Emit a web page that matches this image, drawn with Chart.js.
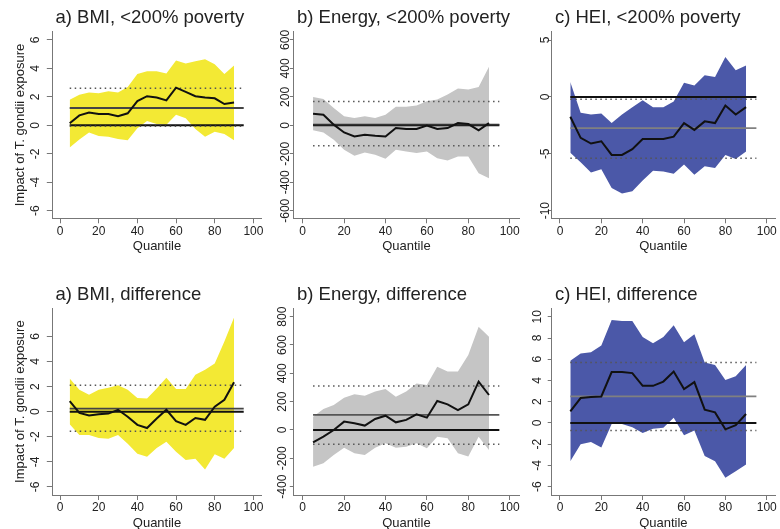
<!DOCTYPE html>
<html>
<head>
<meta charset="utf-8">
<script src="https://cdn.jsdelivr.net/npm/chart.js@4.4.1/dist/chart.umd.min.js"></script>
<style>
  html, body { margin: 0; padding: 0; background: #fff; overflow: hidden; width: 780px; height: 529px; }
  canvas { position: absolute; }
</style>
</head>
<body>
<canvas id="p1"></canvas>
<canvas id="p2"></canvas>
<canvas id="p3"></canvas>
<canvas id="p4"></canvas>
<canvas id="p5"></canvas>
<canvas id="p6"></canvas>
<script>
// Quantile grid shared by every panel
const quantiles = [5, 10, 15, 20, 25, 30, 35, 40, 45, 50, 55, 60, 65, 70, 75, 80, 85, 90];
const xTickValues = [0, 20, 40, 60, 80, 100];

// a) BMI, <200% poverty
const bmiPovEst = [0.15, 0.7, 0.9, 0.8, 0.8, 0.65, 0.85, 1.7, 2.05, 1.95, 1.75, 2.65, 2.35, 2.05, 1.95, 1.9, 1.5, 1.6];
const bmiPovHi  = [1.8, 2.15, 2.3, 2.25, 2.4, 2.3, 2.7, 3.6, 3.8, 3.8, 3.65, 4.55, 4.35, 4.5, 4.65, 4.3, 3.6, 4.2];
const bmiPovLo  = [-1.55, -1.0, -0.5, -0.75, -0.8, -0.95, -1.05, -0.2, 0.3, 0.1, 0.05, 0.75, 0.5, -0.25, -0.8, -0.45, -0.6, -1.05];
const bmiPovOls = [1.22, -0.07, 2.6];           // estimate, lower, upper
const bmiPovTicks = [-6, -4, -2, 0, 2, 4, 6];

// b) Energy, <200% poverty
const energyPovEst = [82, 75, 5, -50, -78, -66, -73, -78, -19, -26, -26, -2, -26, -19, 16, 9, -35, 16];
const energyPovHi  = [200, 186, 122, 64, 52, 64, 52, 75, 130, 130, 139, 170, 181, 216, 259, 252, 270, 412];
const energyPovLo  = [-35, -50, -101, -172, -214, -191, -207, -235, -172, -184, -195, -184, -231, -247, -219, -219, -336, -372];
const energyPovOls = [5, -144, 167];
const energyPovTicks = [-600, -400, -200, 0, 200, 400, 600];

// c) HEI, <200% poverty
const heiPovEst = [-1.75, -3.6, -4.1, -3.9, -5.1, -5.1, -4.6, -3.7, -3.7, -3.7, -3.5, -2.3, -2.9, -2.15, -2.3, -0.75, -1.55, -0.9];
const heiPovHi  = [1.3, -1.4, -1.55, -1.45, -2.3, -1.55, -0.9, -0.3, -0.9, -0.9, -0.4, 1.25, 1.0, 1.9, 1.75, 3.5, 2.35, 2.75];
const heiPovLo  = [-4.9, -5.75, -6.65, -6.35, -8.0, -8.5, -8.3, -7.35, -6.5, -6.55, -6.75, -5.95, -6.85, -6.1, -6.25, -5.1, -5.45, -4.8];
const heiPovOls = [-2.75, -5.4, -0.2];
const heiPovTicks = [-10, -5, 0, 5];

// a) BMI, difference
const bmiDiffEst = [0.85, -0.1, -0.3, -0.2, -0.15, 0.15, -0.4, -1.05, -1.3, -0.55, 0.15, -0.75, -1.05, -0.5, -0.65, 0.4, 0.95, 2.35];
const bmiDiffHi  = [2.65, 1.75, 1.35, 1.75, 1.9, 2.1, 1.75, 1.1, 1.05, 1.85, 2.7, 1.8, 1.8, 2.95, 3.35, 3.85, 5.6, 7.5];
const bmiDiffLo  = [-1.0, -1.85, -1.85, -2.1, -2.15, -1.85, -2.55, -3.35, -3.6, -2.9, -2.4, -3.2, -3.85, -3.75, -4.6, -3.4, -3.75, -2.9];
const bmiDiffOls = [0.25, -1.55, 2.1];
const bmiDiffTicks = [-6, -4, -2, 0, 2, 4, 6];

// b) Energy, difference
const energyDiffEst = [-87, -47, 0, 59, 47, 31, 78, 101, 54, 71, 111, 87, 205, 181, 141, 181, 341, 247];
const energyDiffHi  = [94, 148, 176, 228, 252, 242, 271, 289, 235, 271, 329, 318, 447, 412, 412, 529, 729, 659];
const energyDiffLo  = [-259, -235, -176, -125, -165, -176, -125, -94, -125, -118, -94, -129, -47, -59, -165, -188, -47, -141];
const energyDiffOls = [106, -101, 310];
const energyDiffTicks = [-400, -200, 0, 200, 400, 600, 800];

// c) HEI, difference
const heiDiffEst = [1.1, 2.35, 2.45, 2.5, 4.8, 4.8, 4.7, 3.5, 3.5, 3.9, 4.85, 3.2, 3.85, 1.25, 1.0, -0.6, -0.2, 0.85];
const heiDiffHi  = [5.85, 6.55, 6.65, 7.3, 9.7, 9.6, 9.6, 8.1, 7.5, 8.1, 9.2, 7.6, 8.35, 5.7, 5.45, 4.05, 4.4, 5.45];
const heiDiffLo  = [-3.6, -2.0, -1.8, -2.3, -0.1, -0.1, -0.4, -0.95, -0.55, -0.45, 0.5, -1.15, -0.7, -3.1, -3.6, -5.15, -4.55, -3.9];
const heiDiffOls = [2.5, -0.7, 5.7];
const heiDiffTicks = [-6, -4, -2, 0, 2, 4, 6, 8, 10];

const titles = ['a) BMI, <200% poverty', 'b) Energy, <200% poverty', 'c) HEI, <200% poverty',
                'a) BMI, difference', 'b) Energy, difference', 'c) HEI, difference'];
const yAxisTitle = 'Impact of T. gondii exposure';
const xAxisTitle = 'Quantile';

const YELLOW = '#f3e934', GREY = '#c5c5c5', BLUE = '#4b58a8';
const FONT = '"Liberation Sans", Arial, Helvetica, sans-serif';
const TEXT = '#222';
const AXIS = '#777';

Chart.defaults.font.family = FONT;
Chart.defaults.color = TEXT;

// Panel frames (page pixels) and styling
const CANVAS_H = 275;
const rows = [
  { top: 0,   plotTop: 31.7,  plotBottom: 218.3, tickPad: 1 },
  { top: 264, plotTop: 308.3, plotBottom: 495,   tickPad: 0 }
];
const cols = [
  { left: 0,   width: 275, plotLeft: 52.3,  plotRight: 261.7, xMin: -4.0, xMax: 104.3, yTickLen: 5.5 },
  { left: 262, width: 270, plotLeft: 293.8, plotRight: 519,   xMin: -4.3, xMax: 104.5, yTickLen: 4 },
  { left: 519, width: 261, plotLeft: 551.7, plotRight: 775,   xMin: -4.0, xMax: 104.0, yTickLen: 4 }
];

const panels = [
  { id: 'p1', row: 0, col: 0, est: bmiPovEst, hi: bmiPovHi, lo: bmiPovLo, ols: bmiPovOls, ticks: bmiPovTicks,
    yMin: -6.53, yMax: 6.58, fill: YELLOW, olsColor: '#444', labelDx: 16.5, yTitle: true },
  { id: 'p2', row: 0, col: 1, est: energyPovEst, hi: energyPovHi, lo: energyPovLo, ols: energyPovOls, ticks: energyPovTicks,
    yMin: -653, yMax: 658, fill: GREY, olsColor: '#333', labelDx: 8, yTitle: false },
  { id: 'p3', row: 0, col: 2, est: heiPovEst, hi: heiPovHi, lo: heiPovLo, ols: heiPovOls, ticks: heiPovTicks,
    yMin: -10.67, yMax: 5.73, fill: BLUE, olsColor: '#808080', labelDx: 6.5, yTitle: false },
  { id: 'p4', row: 1, col: 0, est: bmiDiffEst, hi: bmiDiffHi, lo: bmiDiffLo, ols: bmiDiffOls, ticks: bmiDiffTicks,
    yMin: -6.64, yMax: 8.24, fill: YELLOW, olsColor: '#444', labelDx: 16.5, yTitle: true },
  { id: 'p5', row: 1, col: 1, est: energyDiffEst, hi: energyDiffHi, lo: energyDiffLo, ols: energyDiffOls, ticks: energyDiffTicks,
    yMin: -459, yMax: 859, fill: GREY, olsColor: '#555', labelDx: 11.3, yTitle: false },
  { id: 'p6', row: 1, col: 2, est: heiDiffEst, hi: heiDiffHi, lo: heiDiffLo, ols: heiDiffOls, ticks: heiDiffTicks,
    yMin: -6.78, yMax: 10.8, fill: BLUE, olsColor: '#808080', labelDx: 14, yTitle: false }
];

// Panel heading and rotated y tick labels
const panelText = {
  id: 'panelText',
  afterDraw(chart, args, opts) {
    const { ctx, chartArea } = chart;
    const y = chart.scales.y;
    ctx.save();
    ctx.fillStyle = TEXT;
    ctx.textBaseline = 'middle';
    ctx.textAlign = 'left';
    ctx.font = '18.5px ' + FONT;
    ctx.fillText(opts.title, chartArea.left + 3.2, chartArea.top - 13.4);
    ctx.font = '12px ' + FONT;
    ctx.textAlign = 'center';
    y.ticks.forEach(t => {
      const py = y.getPixelForValue(t.value);
      ctx.save();
      ctx.translate(chartArea.left - opts.labelDx, py);
      ctx.rotate(-Math.PI / 2);
      ctx.fillText(String(t.value), 0, 0);
      ctx.restore();
    });
    ctx.restore();
  }
};

const pts = arr => arr.map((v, i) => ({ x: quantiles[i], y: v }));
const hline = v => [{ x: 5, y: v }, { x: 95, y: v }];

panels.forEach((p, idx) => {
  const r = rows[p.row], c = cols[p.col];
  const cv = document.getElementById(p.id);
  cv.width = c.width;
  cv.height = CANVAS_H;
  cv.style.left = c.left + 'px';
  cv.style.top = r.top + 'px';

  const yW = c.plotLeft - c.left;
  const xH = 36.2;
  const padTop = r.plotTop - r.top;
  const padBottom = CANVAS_H - (r.plotBottom - r.top) - xH;
  const padRight = c.left + c.width - c.plotRight;

  const common = { pointRadius: 0, pointHoverRadius: 0, tension: 0 };

  new Chart(cv, {
    type: 'line',
    data: {
      datasets: [
        { ...common, data: pts(p.hi), borderWidth: 0, borderColor: 'rgba(0,0,0,0)', backgroundColor: p.fill, fill: '+1', order: 3 },
        { ...common, data: pts(p.lo), borderWidth: 0, borderColor: 'rgba(0,0,0,0)', fill: false, order: 3 },
        { ...common, data: hline(p.ols[0]), borderColor: p.olsColor, borderWidth: 1.8, fill: false, order: 2 },
        { ...common, data: hline(p.ols[1]), borderColor: '#555', borderWidth: 1.5, borderDash: [1.5, 3.5], fill: false, order: 2 },
        { ...common, data: hline(p.ols[2]), borderColor: '#555', borderWidth: 1.5, borderDash: [1.5, 3.5], fill: false, order: 2 },
        { ...common, data: hline(0), borderColor: '#111', borderWidth: 2, fill: false, order: 2 },
        { ...common, data: pts(p.est), borderColor: '#111', borderWidth: 2, fill: false, order: 1 }
      ]
    },
    options: {
      responsive: false,
      animation: false,
      events: [],
      layout: { padding: { left: 0, right: padRight, top: padTop, bottom: padBottom } },
      scales: {
        x: {
          type: 'linear',
          min: c.xMin, max: c.xMax,
          afterBuildTicks: s => { s.ticks = xTickValues.map(v => ({ value: v })); },
          afterFit: s => { s.height = xH; },
          grid: { drawOnChartArea: false, drawTicks: true, tickLength: 5, color: AXIS, lineWidth: 1 },
          border: { display: true, color: AXIS, width: 1 },
          ticks: { font: { size: 12 }, color: TEXT, padding: r.tickPad, maxRotation: 0, minRotation: 0, autoSkip: false },
          title: { display: true, text: xAxisTitle, font: { size: 13 }, color: TEXT, padding: { top: 0, bottom: 0 } }
        },
        y: {
          type: 'linear',
          min: p.yMin, max: p.yMax,
          afterBuildTicks: s => { s.ticks = p.ticks.map(v => ({ value: v })); },
          afterFit: s => { s.width = yW; },
          grid: { drawOnChartArea: false, drawTicks: true, tickLength: c.yTickLen, color: AXIS, lineWidth: 1 },
          border: { display: true, color: AXIS, width: 1 },
          ticks: { display: false },
          title: { display: p.yTitle, text: yAxisTitle, font: { size: 13 }, color: TEXT, padding: { top: 12.5, bottom: 0 } }
        }
      },
      plugins: {
        legend: { display: false },
        tooltip: { enabled: false },
        panelText: { title: titles[idx], labelDx: p.labelDx }
      }
    },
    plugins: [panelText]
  });
});
</script>
</body>
</html>
